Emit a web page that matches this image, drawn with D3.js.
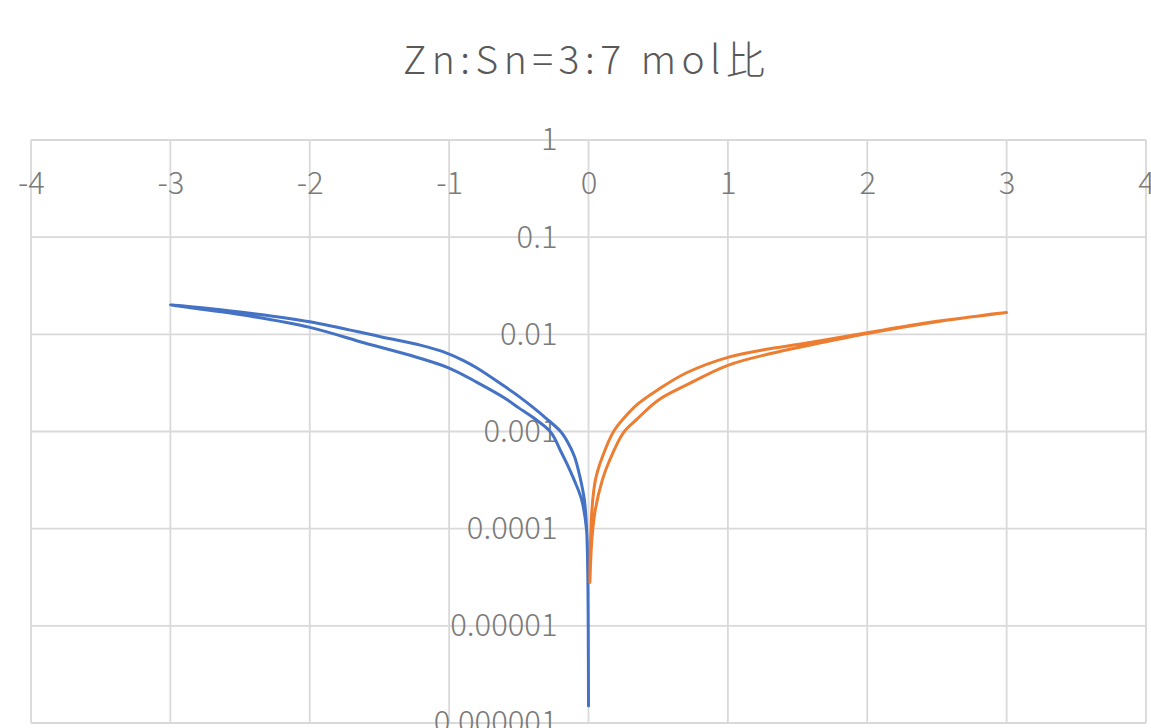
<!DOCTYPE html>
<html>
<head>
<meta charset="utf-8">
<script src="https://cdn.jsdelivr.net/npm/d3@7/dist/d3.min.js"></script>
<style>
  html, body { margin: 0; padding: 0; background: #ffffff; }
  svg { display: block; }
</style>
</head>
<body>
<svg id="chart" width="1151" height="728"></svg>
<script>
// Chart title
const titleText = "Zn:Sn=3:7 mol比";

// Axis ticks
const xTicks = [-4, -3, -2, -1, 0, 1, 2, 3, 4];
const yTicks = [1, 0.1, 0.01, 0.001, 0.0001, 0.00001, 0.000001];
const yTickLabels = ["1", "0.1", "0.01", "0.001", "0.0001", "0.00001", "0.000001"];

// Negative sweep (V, |I|): outward branch then return branch
const blueV = [0, -0.002, -0.006, -0.015, -0.05, -0.1, -0.15, -0.2, -0.27, -0.4, -0.5, -0.6, -0.8, -1.0, -1.3, -1.6, -2.0, -2.5, -3.0,
               -2.5, -2.0, -1.5, -1.2, -1.04, -0.9, -0.8, -0.6, -0.5, -0.4, -0.3, -0.2, -0.15, -0.1, -0.057, -0.03, -0.015, -0.007, -0.003];
const blueI = [0.0000015, 0.00001, 0.00004, 0.0001, 0.0002, 0.00031, 0.00045, 0.00063, 0.00098, 0.0014, 0.00175, 0.0022, 0.0032, 0.0045, 0.0062, 0.0081, 0.0118, 0.016, 0.0201,
               0.017, 0.0135, 0.0095, 0.0077, 0.0066, 0.0054, 0.0045, 0.0029, 0.0023, 0.00178, 0.00135, 0.001, 0.00078, 0.00055, 0.00032, 0.0002, 0.00011, 0.00005, 0.00002];

// Positive sweep (V, |I|): outward branch then return branch
const orangeV = [0.01, 0.025, 0.05, 0.1, 0.15, 0.25, 0.35, 0.5, 0.7, 1.0, 1.3, 1.6, 2.0, 2.5, 3.0,
                 2.5, 2.0, 1.6, 1.3, 1.0, 0.7, 0.5, 0.35, 0.25, 0.18, 0.1, 0.05, 0.025, 0.013, 0.01];
const orangeI = [0.000028, 0.00008, 0.00016, 0.00032, 0.0005, 0.00097, 0.00135, 0.0021, 0.003, 0.0048, 0.0063, 0.0078, 0.0102, 0.0135, 0.0168,
                 0.0136, 0.0104, 0.0083, 0.0071, 0.0058, 0.0040, 0.0027, 0.0019, 0.00135, 0.001, 0.00055, 0.00032, 0.00016, 0.00006, 0.00003];

const svg = d3.select("#chart");

const x = d3.scaleLinear().domain([-4, 4]).range([31, 1146]);
const y = d3.scaleLog().domain([0.000001, 1]).range([723, 140]);

const gridColor = "#d9d9d9";
const titleColor = "#595959";
const tickColor = "#7a7a7a";
const fontStack = "'Noto Sans CJK JP', 'Noto Sans', sans-serif";

// Title
svg.append("text")
  .attr("x", 584)
  .attr("y", 74)
  .attr("text-anchor", "middle")
  .attr("font-family", fontStack)
  .attr("font-weight", 300)
  .attr("font-size", 39)
  .attr("fill", titleColor)
  .attr("textLength", 362)
  .attr("lengthAdjust", "spacing")
  .text(titleText);

// Vertical gridlines
svg.append("g")
  .selectAll("line")
  .data(xTicks)
  .join("line")
  .attr("x1", d => x(d)).attr("x2", d => x(d))
  .attr("y1", y(1)).attr("y2", y(0.000001))
  .attr("stroke", gridColor)
  .attr("stroke-width", 1.8);

// Horizontal gridlines
svg.append("g")
  .selectAll("line")
  .data(yTicks)
  .join("line")
  .attr("x1", x(-4)).attr("x2", x(4))
  .attr("y1", d => y(d)).attr("y2", d => y(d))
  .attr("stroke", gridColor)
  .attr("stroke-width", 1.8);

// Y axis (crosses at x = 0) with labels to its left
const yAxis = d3.axisLeft(y)
  .tickValues(yTicks)
  .tickFormat((d, i) => yTickLabels[i])
  .tickSize(0)
  .tickPadding(31);

const gy = svg.append("g")
  .attr("transform", `translate(${x(0)},0)`)
  .call(yAxis);
gy.select(".domain").remove();
gy.selectAll("text")
  .attr("fill", tickColor)
  .attr("font-family", fontStack)
  .attr("font-weight", 300)
  .attr("font-size", 31);

// X axis labels along the top, below the 1 gridline
const xAxis = d3.axisBottom(x)
  .tickValues(xTicks)
  .tickFormat(d3.format("d"))
  .tickSize(0)
  .tickPadding(32);

const gx = svg.append("g")
  .attr("transform", `translate(0,${y(1)})`)
  .call(xAxis);
gx.select(".domain").remove();
gx.selectAll("text")
  .attr("fill", tickColor)
  .attr("font-family", fontStack)
  .attr("font-weight", 300)
  .attr("font-size", 31)
  .text(d => (d < 0 ? "-" + Math.abs(d) : String(d)));

// Sweep curves
const line = d3.line()
  .x(d => x(d[0]))
  .y(d => y(d[1]))
  .curve(d3.curveCatmullRom.alpha(0.5));

svg.append("path")
  .datum(d3.zip(blueV, blueI))
  .attr("d", line)
  .attr("fill", "none")
  .attr("stroke", "#4472c4")
  .attr("stroke-width", 3)
  .attr("stroke-linejoin", "round")
  .attr("stroke-linecap", "round");

svg.append("path")
  .datum(d3.zip(orangeV, orangeI))
  .attr("d", line)
  .attr("fill", "none")
  .attr("stroke", "#ed7d31")
  .attr("stroke-width", 3)
  .attr("stroke-linejoin", "round")
  .attr("stroke-linecap", "round");
</script>
</body>
</html>
